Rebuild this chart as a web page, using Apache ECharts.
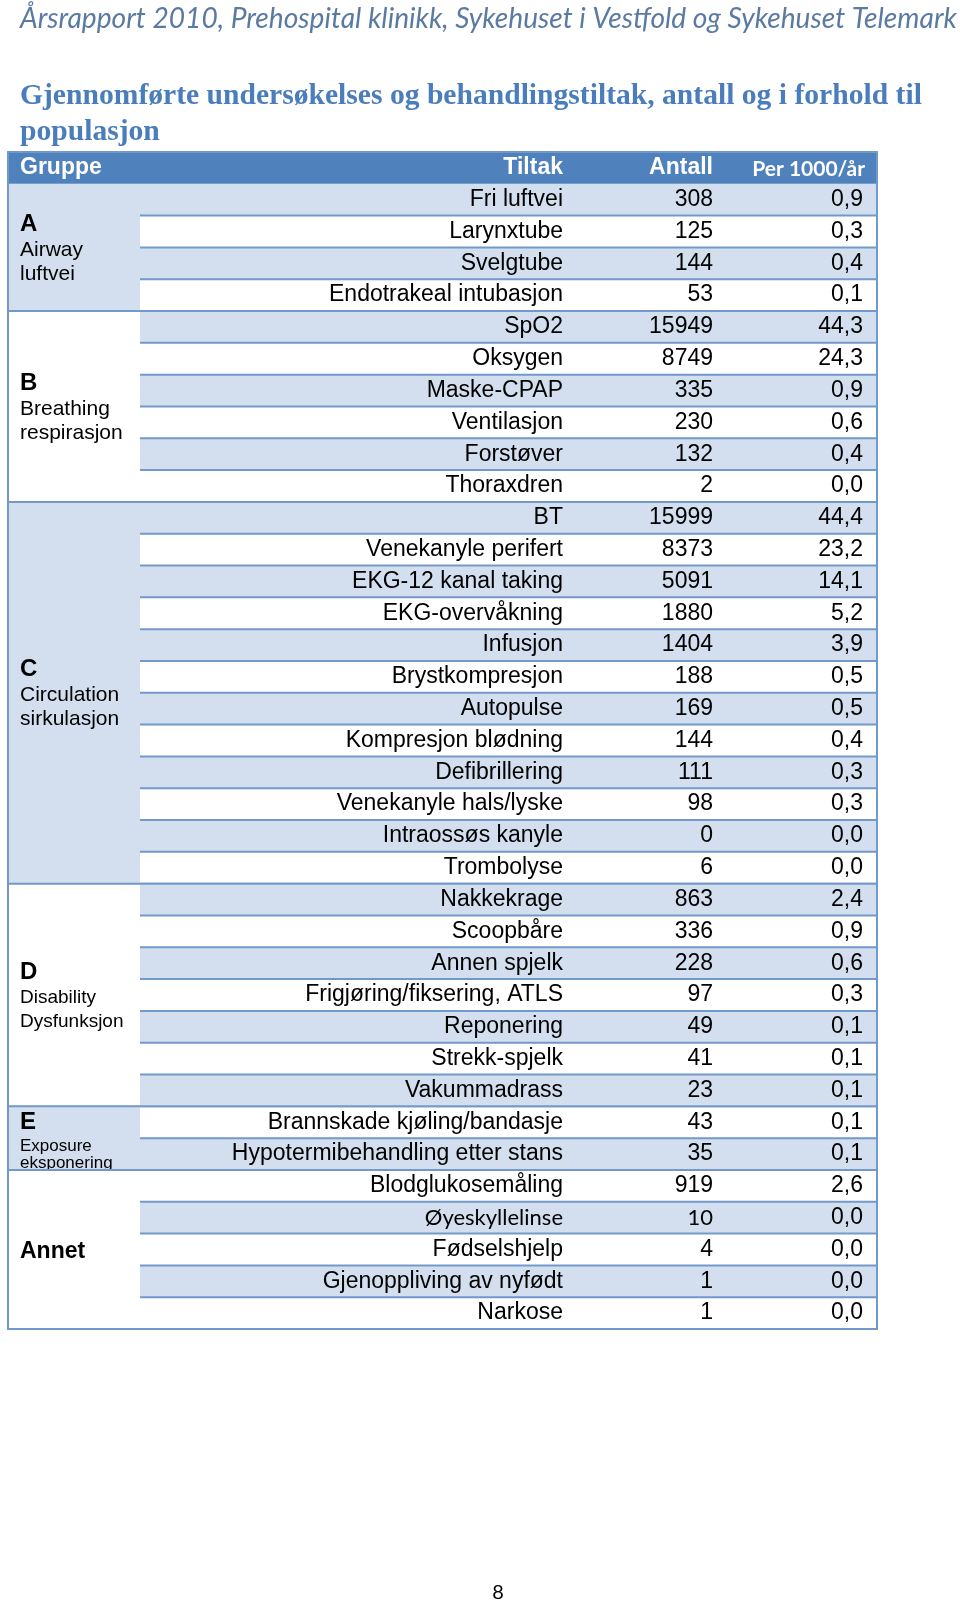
<!DOCTYPE html>
<html><head><meta charset="utf-8">
<script src="https://cdn.jsdelivr.net/npm/echarts@6/dist/echarts.min.js"></script>
<style>html,body{margin:0;padding:0;background:#fff}#c{width:960px;height:1602px}</style>
</head><body><div id="c"></div>
<script>
// ---------- data ----------
const pageHeader = 'Årsrapport 2010, Prehospital klinikk, Sykehuset i Vestfold og Sykehuset Telemark';
const titleLines = ['Gjennomførte undersøkelses og behandlingstiltak, antall og i forhold til', 'populasjon'];
const columnHeaders = ['Gruppe', 'Tiltak', 'Antall', 'Per 1000/år'];
const groupCodes = ['A', 'B', 'C', 'D', 'E', 'Annet'];
const groupNames = [['Airway', 'luftvei'], ['Breathing', 'respirasjon'], ['Circulation', 'sirkulasjon'], ['Disability', 'Dysfunksjon'], ['Exposure', 'eksponering'], []];
const groupSizes = [4, 6, 12, 7, 2, 5];
const tiltak = ['Fri luftvei', 'Larynxtube', 'Svelgtube', 'Endotrakeal intubasjon',
  'SpO2', 'Oksygen', 'Maske-CPAP', 'Ventilasjon', 'Forstøver', 'Thoraxdren',
  'BT', 'Venekanyle perifert', 'EKG-12 kanal taking', 'EKG-overvåkning', 'Infusjon', 'Brystkompresjon', 'Autopulse', 'Kompresjon blødning', 'Defibrillering', 'Venekanyle hals/lyske', 'Intraossøs kanyle', 'Trombolyse',
  'Nakkekrage', 'Scoopbåre', 'Annen spjelk', 'Frigjøring/fiksering, ATLS', 'Reponering', 'Strekk-spjelk', 'Vakummadrass',
  'Brannskade kjøling/bandasje', 'Hypotermibehandling etter stans',
  'Blodglukosemåling', 'Øyeskyllelinse', 'Fødselshjelp', 'Gjenoppliving av nyfødt', 'Narkose'];
const antall = [308, 125, 144, 53,
  15949, 8749, 335, 230, 132, 2,
  15999, 8373, 5091, 1880, 1404, 188, 169, 144, 111, 98, 0, 6,
  863, 336, 228, 97, 49, 41, 23,
  43, 35,
  919, 10, 4, 1, 1];
const per1000 = [0.9, 0.3, 0.4, 0.1,
  44.3, 24.3, 0.9, 0.6, 0.4, 0.0,
  44.4, 23.2, 14.1, 5.2, 3.9, 0.5, 0.5, 0.4, 0.3, 0.3, 0.0, 0.0,
  2.4, 0.9, 0.6, 0.3, 0.1, 0.1, 0.1,
  0.1, 0.1,
  2.6, 0.0, 0.0, 0.0, 0.0];
const pageNumber = '8';

// ---------- style / layout ----------
const COL = { gruppeR: 132, tiltakR: 567, antallR: 720, perR: 869 };
const SHADE = '#d3dfee', HEAD = '#4f81bd', LINE = '#7299c9';
const ARIAL = '"Liberation Sans", Arial, sans-serif';
const CALIBRI = 'Lato, "Open Sans", sans-serif';
const calibriRows = new Set([32]);
const groupNameSizes = [21, 21, 21, 19, 17, 21];

function fitFont(text, fontTpl, target) {
  const ctx = document.createElement('canvas').getContext('2d');
  let lo = 8, hi = 60;
  for (let k = 0; k < 30; k++) {
    const m = (lo + hi) / 2;
    ctx.font = fontTpl.replace('SIZE', m.toFixed(2) + 'px');
    if (ctx.measureText(text).width > target) hi = m; else lo = m;
  }
  return lo;
}
const titleFontTpl = 'bold SIZE "Liberation Serif", serif';
const titleSize = fitFont(titleLines[0], titleFontTpl, 902);
const headerFontTpl = 'italic SIZE Lato, sans-serif';
const headerSize = fitFont(pageHeader, headerFontTpl, 937);

const fmt = v => v.toFixed(1).replace('.', ',');

const groupData = [];
let st = 0;
groupSizes.forEach((n, g) => { groupData.push([st, st + n, g]); st += n; });
const rowData = tiltak.map((t, i) => [i, antall[i], per1000[i]]);

function txt(x, y, text, font, align, fill, z2) {
  return { type: 'text', x: x, y: y, z2: z2 === undefined ? 20 : z2,
    style: { text: text, font: font, fill: fill || '#000', align: align || 'left', verticalAlign: 'middle' } };
}

function renderGroup(params, api) {
  const s = api.value(0), e = api.value(1), g = api.value(2);
  const p0 = api.coord([0, s]), p1 = api.coord([COL.gruppeR, e]), pR = api.coord([COL.perR, e]);
  const top = p0[1], bot = p1[1], cy = (top + bot) / 2, x0 = p0[0];
  const tx = x0 + 12;
  const ch = [{ type: 'rect', z2: 0, shape: { x: x0, y: top, width: p1[0] - x0, height: bot - top },
    style: { fill: g % 2 === 0 ? SHADE : '#fff' } }];
  const names = groupNames[g];
  const nf = groupNameSizes[g] + 'px ' + ARIAL;
  const cf = 'bold 24px ' + ARIAL;
  if (!names.length) {
    ch.push(txt(tx, cy + 2, groupCodes[g], 'bold 23px ' + ARIAL, 'left', '#000', 0));
  } else if (e - s <= 2) {
    ch.push(txt(tx, top + 16, groupCodes[g], cf, 'left', '#000', 0));
    names.forEach((n, k) => ch.push(txt(tx, top + 40 + k * 17, n, nf, 'left', '#000', 0)));
  } else {
    ch.push(txt(tx, cy - 23, groupCodes[g], cf, 'left', '#000', 0));
    names.forEach((n, k) => ch.push(txt(tx, cy + 2.5 + k * 24, n, nf, 'left', '#000', 0)));
  }
  ch.push({ type: 'line', z2: 50, shape: { x1: x0, y1: bot, x2: pR[0], y2: bot }, style: { stroke: LINE, lineWidth: 2 } });
  return { type: 'group', children: ch };
}

function renderRow(params, api) {
  const i = api.value(0);
  const a = api.coord([COL.gruppeR, i]), b = api.coord([COL.perR, i + 1]);
  const top = a[1], bot = b[1], cy = (top + bot) / 2;
  const ch = [];
  if (i % 2 === 0) ch.push({ type: 'rect', z2: 0, shape: { x: a[0], y: top, width: b[0] - a[0], height: bot - top }, style: { fill: SHADE } });
  const cal = calibriRows.has(i);
  const f = cal ? '22px ' + CALIBRI : '23px ' + ARIAL;
  ch.push(txt(api.coord([COL.tiltakR - 12, i])[0], cy, tiltak[i], f, 'right'));
  ch.push(txt(api.coord([COL.antallR - 15, i])[0], cy, String(api.value(1)), f, 'right'));
  ch.push(txt(api.coord([COL.perR - 14, i])[0], cy, fmt(api.value(2)), '23px ' + ARIAL, 'right'));
  ch.push({ type: 'line', z2: 50, shape: { x1: a[0], y1: bot, x2: b[0], y2: bot }, style: { stroke: LINE, lineWidth: 2 } });
  return { type: 'group', children: ch };
}

function renderHeader(params, api) {
  const a = api.coord([0, -1]), b = api.coord([COL.perR, 0]);
  const cy = (a[1] + b[1]) / 2;
  const hb = 'bold 23px ' + ARIAL;
  return { type: 'group', children: [
    { type: 'rect', shape: { x: a[0], y: a[1], width: b[0] - a[0], height: b[1] - a[1] }, style: { fill: HEAD } },
    txt(a[0] + 12, cy, columnHeaders[0], hb, 'left', '#fff'),
    txt(api.coord([COL.tiltakR - 12, -1])[0], cy, columnHeaders[1], hb, 'right', '#fff'),
    txt(api.coord([COL.antallR - 15, -1])[0], cy, columnHeaders[2], hb, 'right', '#fff'),
    txt(api.coord([COL.perR - 12, -1])[0], cy + 1, columnHeaders[3], 'bold 21px ' + CALIBRI, 'right', '#fff')
  ] };
}

const chart = echarts.init(document.getElementById('c'), null, { renderer: 'canvas' });
chart.setOption({
  animation: false,
  backgroundColor: '#fff',
  grid: { left: 8, top: 152, width: 869, height: 1177, show: true, borderColor: LINE, borderWidth: 2, backgroundColor: 'transparent', z: 10 },
  xAxis: { type: 'value', min: 0, max: COL.perR, show: false },
  yAxis: { type: 'value', min: -1, max: tiltak.length, inverse: true, show: false },
  graphic: [
    { type: 'text', x: 20, y: 19, style: { text: pageHeader, font: headerFontTpl.replace('SIZE', headerSize + 'px'), fill: '#5a7aa2', verticalAlign: 'middle' } },
    { type: 'text', x: 20, y: 96, style: { text: titleLines[0], font: titleFontTpl.replace('SIZE', titleSize + 'px'), fill: '#4a7dbb', verticalAlign: 'middle' } },
    { type: 'text', x: 20, y: 132, style: { text: titleLines[1], font: titleFontTpl.replace('SIZE', titleSize + 'px'), fill: '#4a7dbb', verticalAlign: 'middle' } },
    { type: 'text', x: 498, y: 1593, style: { text: pageNumber, font: '20px ' + CALIBRI, fill: '#000', align: 'center', verticalAlign: 'middle' } }
  ],
  series: [
    { type: 'custom', coordinateSystem: 'cartesian2d', renderItem: renderGroup, data: groupData, z: 2, clip: false },
    { type: 'custom', coordinateSystem: 'cartesian2d', renderItem: renderRow, data: rowData, z: 3, clip: false },
    { type: 'custom', coordinateSystem: 'cartesian2d', renderItem: renderHeader, data: [[-1]], z: 4, clip: false }
  ]
});
</script>
</body></html>
